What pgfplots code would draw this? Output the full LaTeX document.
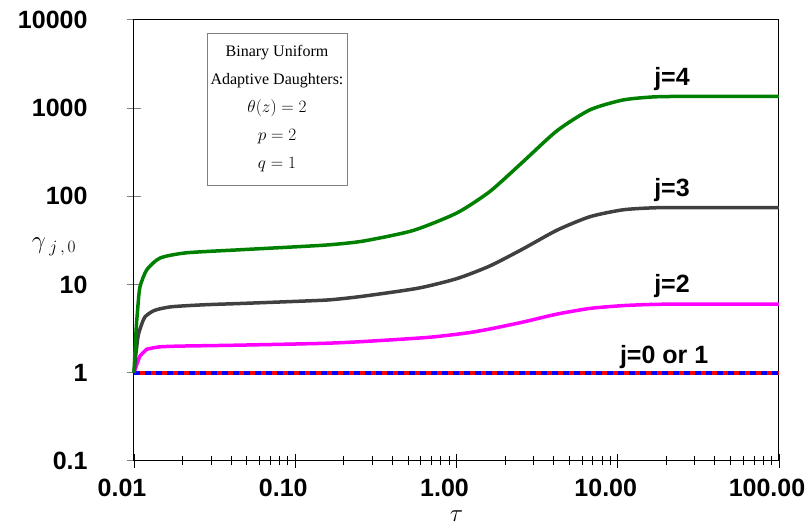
\documentclass[border=0pt]{standalone}
\usepackage{fontspec}
\setmainfont{Liberation Sans}
\newfontfamily\timesf{Liberation Serif}
\usepackage{pgfplots}
\pgfplotsset{compat=1.18}
\definecolor{jgreen}{RGB}{0,128,0}
\definecolor{jgray}{RGB}{64,64,64}
\definecolor{jmag}{RGB}{255,0,255}
\begin{document}
\begin{tikzpicture}
\path[use as bounding box] (-134pt,-68pt) rectangle (673pt,461pt);
\begin{axis}[
  at={(0,0)}, anchor=south west,
  scale only axis, width=645pt, height=441pt,
  xmode=log, ymode=log,
  xmin=0.01, xmax=100, ymin=0.1, ymax=10000,
  xtick={0.01,0.1,1,10,100},
  xticklabels={0.01,0.10,1.00,10.00,100.00},
  ytick={0.1,1,10,100,1000,10000},
  yticklabels={0.1,1,10,100,1000,10000},
  minor xtick={0.02,0.03,0.04,0.05,0.06,0.07,0.08,0.09,0.2,0.3,0.4,0.5,0.6,0.7,0.8,0.9,2,3,4,5,6,7,8,9,20,30,40,50,60,70,80,90},
  yminorticks=false,
  tick align=center,
  major tick length=14pt, minor tick length=9pt,
  xtick style={black, line width=0.8pt},
  ytick style={gray, line width=1pt},
  xtick pos=bottom, ytick pos=left,
  axis line style={black, line width=1pt},
  tick label style={font=\fontsize{25}{25}\selectfont\bfseries},
  xticklabel style={yshift=-8pt, xshift=-12pt},
  yticklabel style={xshift=-36pt},
  xlabel={\fontsize{24}{24}\selectfont$\tau$},
  xlabel style={at={(0.5,0)}, anchor=north, yshift=-46pt},
  clip=false,
]
% j=0 or 1
\addplot[red, line width=3.5pt] coordinates {(0.01,1) (100,1)};
\addplot[blue, line width=3.5pt, dash pattern=on 6pt off 5pt] coordinates {(0.01,1) (100,1)};
% j=2
\addplot[jmag, line width=3.5pt, smooth, tension=0.4] coordinates {
(0.01,1) (0.0105,1.3) (0.0109,1.55) (0.0115,1.72) (0.012,1.85) (0.0145,1.97) (0.02,2.01) (0.04,2.05) (0.1,2.12) (0.164,2.17) (0.263,2.26) (0.665,2.52) (1.16,2.83) (1.614,3.14) (2.585,3.76) (4.2,4.63) (6.73,5.37) (10.8,5.78) (17,5.97) (28,6.01) (100,6.01)};
% j=3
\addplot[jgray, line width=3.5pt, smooth, tension=0.4] coordinates {
(0.01,1) (0.0103,1.7) (0.0106,2.6) (0.011,3.3) (0.0117,4.3) (0.0134,5.1) (0.017,5.6) (0.027,5.9) (0.045,6.1) (0.1,6.45) (0.164,6.72) (0.263,7.38) (0.577,9.1) (1.007,11.7) (1.614,16.3) (2.585,25.4) (4.2,41.4) (6.73,58.9) (10.8,70.5) (17,74.3) (28,74.6) (100,74.6)};
% j=4
\addplot[jgreen, line width=3.5pt, smooth, tension=0.4] coordinates {
(0.01,1) (0.0103,3) (0.0106,6) (0.0109,9.5) (0.012,14.7) (0.0145,20) (0.021,22.9) (0.045,24.8) (0.1,26.8) (0.164,28.3) (0.263,31.1) (0.537,41) (1.007,65) (1.614,114) (2.585,247) (4.2,555) (6.73,959) (10.8,1240) (17,1345) (28,1360) (100,1360)};
\node[anchor=base, font=\fontsize{25}{25}\selectfont\bfseries] at (axis cs:21.7,1795) {j=4};
\node[anchor=base, font=\fontsize{25}{25}\selectfont\bfseries] at (axis cs:21.7,99) {j=3};
\node[anchor=base, font=\fontsize{25}{25}\selectfont\bfseries] at (axis cs:21.7,8.07) {j=2};
\node[anchor=base, font=\fontsize{25}{25}\selectfont\bfseries] at (axis cs:19.4,1.26) {j=0 or 1};
\end{axis}
\node[draw=gray, line width=0.8pt, fill=white, minimum width=140pt, minimum height=152pt, align=center, font=\timesf\fontsize{16}{28}\selectfont, inner sep=0pt] at (143pt,352pt)
  {Binary Uniform\\Adaptive Daughters:\\$\theta(z)=2$\\$p=2$\\$q=1$};
\node[font=\fontsize{26}{26}\selectfont] at (-80pt,214pt) {$\gamma_{\;j\,,\,0}$};
\end{tikzpicture}
\end{document}
